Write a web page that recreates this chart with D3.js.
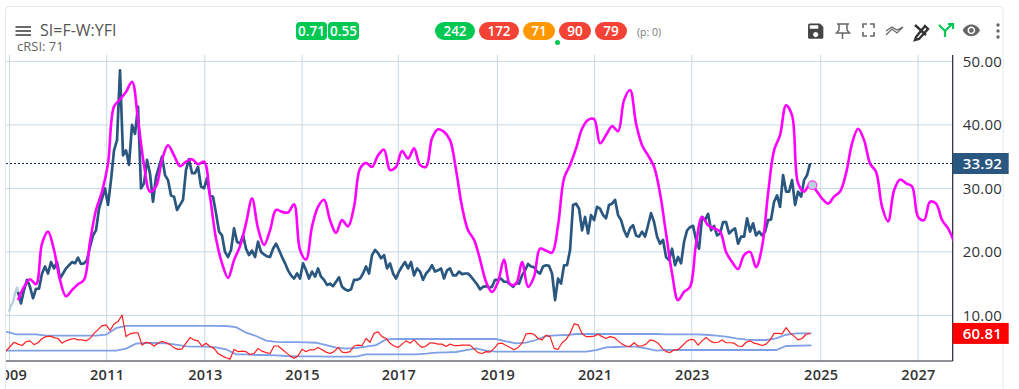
<!DOCTYPE html>
<html><head><meta charset="utf-8">
<script src="https://cdn.jsdelivr.net/npm/d3@7"></script>
<style>html,body{margin:0;padding:0;background:#fff;overflow:hidden}svg{display:block;font-family:"Open Sans",sans-serif}</style>
</head><body><div id="c"></div>
<script>
const tickYears=[2009,2011,2013,2015,2017,2019,2021,2023,2025,2027];
const tickWeeks=[0,104,209,313,416,522,626,730,868,972];
const priceTicks=[10,20,30,40,50];
const lastPrice=33.92, lastRsi=60.81;

const fadedWeeks=[-0.5,1.6,3.8,6,8.1,9.1];
const fadedPrice=[10.6,11.6,12.1,13.5,14.5,13.7];

const priceStartWeek=9.1, priceStep=3.21;
const price=[13.7,11.9,14.0,15.6,14.5,12.7,14.2,14.2,16.6,17.7,16.6,18.4,17.4,18.4,15.8,16.6,17.4,17.9,18.4,18.2,19.1,18.1,18.2,18.7,20.8,22.6,23.4,26.8,28.4,30.0,27.4,31.3,36.0,37.6,48.6,35.2,36.0,33.7,40.0,38.6,42.9,30.0,30.8,34.5,32.3,27.9,31.8,33.4,35.0,32.1,31.3,28.9,28.7,26.6,27.4,28.2,32.9,34.6,32.4,32.4,33.4,30.3,30.0,31.6,28.9,28.7,26.1,23.2,22.6,20.0,19.2,20.3,23.7,21.6,21.3,
22.6,20.5,19.5,20.2,19.2,21.6,20.0,19.6,19.3,19.2,20.5,21.3,20.3,19.2,18.2,17.1,16.3,15.8,16.6,15.8,18.2,17.1,15.8,16.9,16.1,17.4,16.1,15.6,14.8,15.0,14.6,15.3,16.0,14.5,14.1,13.9,14.1,15.6,15.6,15.8,16.6,17.7,16.6,19.5,20.3,19.8,19.0,19.5,17.4,18.2,16.6,15.8,16.9,17.7,18.4,17.4,18.4,16.3,17.4,16.9,15.6,16.6,17.1,17.9,16.9,17.1,17.4,15.8,17.1,17.4,16.3,16.3,16.9,16.5,16.6,16.6,16.1,15.5,14.9,14.1,
14.5,14.6,14.4,14.5,15.6,15.6,15.8,15.3,15.3,14.9,14.5,15.1,15.0,16.3,17.1,18.1,17.7,17.6,16.9,16.6,17.7,17.9,17.8,16.6,12.4,15.8,15.0,17.9,17.9,20.3,27.4,27.6,26.8,23.4,25.5,22.9,25.8,25.0,27.1,26.8,25.8,25.3,27.4,27.6,28.2,25.8,25.0,23.4,22.4,23.7,24.2,22.6,22.4,23.2,22.4,24.2,26.1,24.7,22.4,21.3,21.9,19.2,18.7,20.5,17.9,19.2,18.2,21.6,23.4,23.9,24.1,21.9,20.5,25.5,25.0,26.0,23.4,24.1,22.6,22.9,
24.7,24.7,22.9,23.4,23.7,21.3,22.4,22.4,25.3,23.2,24.5,22.6,23.2,22.6,23.2,25.0,25.1,27.9,28.9,27.1,32.1,29.5,29.5,31.3,27.4,29.5,28.7,31.3,32.1,33.92];

const cycleStartWeek=9.1, cycleStep=6.42;
const cycle=[12.4,14.5,15.7,14.9,21.3,23.2,20.3,15.6,13.0,14.0,14.9,15.6,21.6,26.6,29.5,33.9,42.9,44.0,45.2,46.8,40.8,33.7,29.5,30.3,34.5,36.8,35.2,33.5,34.2,34.6,33.8,34.2,28.7,22.1,18.2,15.9,18.7,20.9,
24.5,28.4,23.7,21.1,23.4,26.6,26.3,26.2,27.5,20.3,18.8,24.0,27.1,28.2,25.0,23.0,25.0,24.0,27.1,33.1,34.0,33.4,35.2,36.1,32.9,33.4,35.9,34.7,36.3,33.7,33.4,37.9,39.3,38.9,37.6,32.9,27.1,23.4,21.9,18.8,
15.3,13.7,15.3,18.8,14.9,15.0,18.4,14.5,16.1,20.5,20.2,19.9,24.2,31.6,33.7,36.3,39.4,40.8,40.9,37.1,38.4,39.8,39.0,43.9,45.5,40.2,36.8,35.2,33.4,29.2,22.9,16.6,12.4,13.7,14.5,21.3,25.5,24.2,23.7,23.2,
20.0,18.4,17.3,19.5,20.0,17.6,20.8,29.2,36.0,38.4,43.1,41.5,30.8,29.5,30.7,29.7,28.4,27.6,28.7,29.5,32.4,37.1,39.4,37.6,33.9,32.6,27.1,24.8,29.7,31.4,30.8,30.3,25.5,25.0,27.9,27.6,25.0,23.7,21.6];
const cycleMarkerWeek=859, cycleMarkerValue=30.5;

const rsiStartWeek=-3.7, rsiStep=4.28;
const rsi=[23,33,42,38,35,43,45,37,41,50,54,55,52,50,40,45,48,50,47,47,45,50,61,69,77,79,67,81,86,100,54,60,62,62,36,42,40,34,40,44,41,37,30,27,28,40,52,47,45,34,40,33,29,18,13,9,6,27,22,23,22,16,18,29,23,20,18,34,34,27,20,13,8,13,27,22,26,26,31,26,21,18,22,31,21,20,22,34,36,35,50,42,61,64,54,50,40,34,31,38,45,40,47,38,
31,34,41,40,38,38,33,38,35,35,36,36,36,28,20,18,22,21,29,39,40,35,31,26,31,40,60,61,59,50,47,57,54,29,27,41,48,61,81,79,60,54,54,55,59,54,50,54,52,45,38,34,33,41,34,34,38,47,45,40,29,22,20,26,26,34,43,48,47,36,45,52,45,41,42,47,41,41,40,34,33,42,45,40,38,35,38,47,61,61,60,73,62,55,47,50,59,60.81];

const bandStartWeek=-3.7, bandStep=10.7, bandEndWeek=858;
const bandUpper=[64.5,58.8,58.8,58.8,56,56,56,56,56,56,58,72,77,77,77,77,77,77,77,77,77,77,76.6,74,62.4,55.3,45.4,43,42.5,42.5,41.8,41,36,30.5,28.4,29.8,32.6,36,48.2,48.9,48.9,48.9,
48.9,48.9,48.9,48.9,48.9,48.9,48.9,48.9,44,39.7,41,46.8,55.3,56.7,57.4,59.6,59.6,59.6,59.6,59.6,59.6,59.6,59.6,59.6,58.8,58.8,58.8,58.8,58,56,53.9,50.3,47.5,46.8,46.8,50.3,58,61,61,61];
const bandLower=[24.1,24.1,24.1,24.1,24.1,24.1,24.1,24.1,24.1,24.1,24.1,24.1,28.4,39,40.4,40.4,39.7,36.9,33.3,32.6,32.6,31.2,27,16.3,16.3,14.9,14.9,14.2,12.8,12,12,12,11.3,11.3,11.3,11.3,16.3,16.3,16.3,16.3,16.3,16.3,
17.7,19.8,20.6,21.3,25.5,29,24.1,22,22,22,22,22,22,22,22,22,22,25.5,31.2,31.9,32.6,32.6,29,24.1,25.5,25.5,25.5,25.5,25.5,25.5,25.5,25.5,25.5,25.5,25.5,25.5,34,35.4];

const badgesA=[{t:"0.71",x0:296,x1:327,c:"#00c853"},{t:"0.55",x0:328,x1:359,c:"#00c853"}];
const badgesB=[{t:"242",x0:435,x1:475,c:"#00c853"},{t:"172",x0:479,x1:519,c:"#f44336"},{t:"71",x0:523,x1:555,c:"#ff9800"},{t:"90",x0:559,x1:591,c:"#f44336"},{t:"79",x0:595,x1:627,c:"#f44336"}];

const W=1019,H=389,L=6,R=952.7,T=55,B=361;
const x=d3.scaleLinear([0,730],[9.5,691.8]);
const y=d3.scaleLinear([10,50],[315.4,61.4]);
const yR=d3.scaleLinear([0,100],[362,315]);
const svg=d3.select("#c").append("svg").attr("width",W).attr("height",H);
const defs=svg.append("defs");
defs.append("clipPath").attr("id","plot").append("rect").attr("x",L).attr("y",T).attr("width",R-L).attr("height",B-T);
defs.append("clipPath").attr("id","xa").append("rect").attr("x",L).attr("y",B).attr("width",R-L+40).attr("height",H-B);

// card
svg.append("rect").attr("x",5.5).attr("y",6.5).attr("width",997.5).attr("height",H).attr("rx",4).attr("fill","#fff").attr("stroke","#e4e7ea");

// grid + axes
const gx=svg.append("g").attr("clip-path","url(#xa)").append("g").attr("transform",`translate(0,${B})`)
 .call(d3.axisBottom(x).tickValues(tickWeeks).tickFormat((d,i)=>tickYears[i]).tickSize(0).tickPadding(9));
gx.select(".domain").remove();
gx.selectAll("text").attr("fill","#333").attr("font-size",14.5).attr("font-weight",600).attr("font-family",'"Open Sans",sans-serif').attr("letter-spacing",.3);
svg.append("g").selectAll("line").data(tickWeeks).join("line").attr("x1",d=>x(d)).attr("x2",d=>x(d)).attr("y1",T).attr("y2",B).attr("stroke","#c8d7e6").attr("stroke-width",1);
svg.append("g").selectAll("line").data(priceTicks).join("line").attr("x1",L).attr("x2",R).attr("y1",d=>y(d)).attr("y2",d=>y(d)).attr("stroke","#c8d7e6").attr("stroke-width",1);

const gy=svg.append("g").attr("transform",`translate(${R},0)`)
 .call(d3.axisRight(y).tickValues(priceTicks).tickFormat(d3.format(".2f")).tickSize(0).tickPadding(10));
gy.select(".domain").remove();
gy.selectAll("text").attr("fill","#333").attr("font-size",15).attr("font-family",'"Open Sans",sans-serif').attr("letter-spacing",.2);

svg.append("line").attr("x1",L).attr("x2",R).attr("y1",y(lastPrice)).attr("y2",y(lastPrice)).attr("stroke","#1e3350").attr("stroke-width",1).attr("stroke-dasharray","2,2");
svg.append("line").attr("x1",L).attr("x2",R).attr("y1",B).attr("y2",B).attr("stroke","#20242e").attr("stroke-width",1.2);
svg.append("line").attr("x1",R).attr("x2",R).attr("y1",T).attr("y2",B).attr("stroke","#20242e").attr("stroke-width",1.2);

const plot=svg.append("g").attr("clip-path","url(#plot)");
const line=(xs,ys,curve)=>d3.line().x(i=>x(xs(i))).y(i=>ys(i)).curve(curve||d3.curveLinear);
const idx=a=>d3.range(a.length);

const bandX=(a,i)=>i===a.length-1?bandEndWeek:bandStartWeek+bandStep*i;
[bandUpper,bandLower].forEach(a=>{
 plot.append("path").attr("d",line(i=>bandX(a,i),i=>yR(a[i]))(idx(a))).attr("fill","none").attr("stroke","#7f9fe6").attr("stroke-width",1.8);
});
plot.append("path").attr("d",line(i=>rsiStartWeek+rsiStep*i,i=>yR(rsi[i]))(idx(rsi))).attr("fill","none").attr("stroke","#ff2020").attr("stroke-width",1.2).attr("stroke-linejoin","round");
plot.append("path").attr("d",line(i=>fadedWeeks[i],i=>y(fadedPrice[i]))(idx(fadedPrice))).attr("fill","none").attr("stroke","#b9cfe2").attr("stroke-width",2.4);
plot.append("path").attr("d",line(i=>priceStartWeek+priceStep*i,i=>y(price[i]))(idx(price))).attr("fill","none").attr("stroke","#2a5780").attr("stroke-width",2.7).attr("stroke-linejoin","round");
plot.append("path").attr("d",line(i=>cycleStartWeek+cycleStep*i,i=>y(cycle[i]),d3.curveCatmullRom.alpha(.5))(idx(cycle))).attr("fill","none").attr("stroke","#ff00ff").attr("stroke-width",2.6);
plot.append("circle").attr("cx",x(cycleMarkerWeek)).attr("cy",y(cycleMarkerValue)).attr("r",4.4).attr("fill","#bccfe2").attr("stroke","#ff40e0").attr("stroke-width",1.2);

// value tags
const tag=(v,fill,yc)=>{
 svg.append("rect").attr("x",R).attr("y",yc-10.5).attr("width",56).attr("height",21).attr("fill",fill);
 svg.append("text").attr("x",R+10).attr("y",yc+5.5).attr("fill","#fff").attr("font-size",15).attr("font-weight",600).attr("letter-spacing",.2).text(v.toFixed(2));
};
tag(lastPrice,"#2a5780",y(lastPrice));
tag(lastRsi,"#ff0000",yR(lastRsi));

// header
const hb=svg.append("g").attr("stroke","#444").attr("stroke-width",1.6);
[27,31,35].forEach(v=>hb.append("line").attr("x1",15.5).attr("x2",31).attr("y1",v).attr("y2",v));
svg.append("text").attr("x",40).attr("y",35.5).attr("font-size",16).attr("fill","#555").text("SI=F-W:YFI");
svg.append("text").attr("x",17).attr("y",51).attr("font-size",13).attr("fill","#666").text("cRSI: 71");

const badge=(b,r)=>{
 svg.append("rect").attr("x",b.x0).attr("y",22).attr("width",b.x1-b.x0).attr("height",18).attr("rx",r).attr("fill",b.c);
 svg.append("text").attr("x",(b.x0+b.x1)/2).attr("y",36).attr("text-anchor","middle").attr("fill","#fff").attr("font-size",13.5).attr("font-weight",600).text(b.t);
};
badgesA.forEach(b=>badge(b,4));
badgesB.forEach(b=>badge(b,9));
svg.append("circle").attr("cx",557.5).attr("cy",42.5).attr("r",2.5).attr("fill","#00c853");
svg.append("text").attr("x",637).attr("y",36).attr("font-size",10.5).attr("fill","#777").text("(p: 0)");

// toolbar icons
const icon=(d,tx,ty,s,fill)=>svg.append("path").attr("d",d).attr("transform",`translate(${tx},${ty}) scale(${s})`).attr("fill",fill);
icon("M17 3H5c-1.11 0-2 .9-2 2v14c0 1.1.89 2 2 2h14c1.1 0 2-.9 2-2V7l-4-4zm-5 16c-1.66 0-3-1.34-3-3s1.34-3 3-3 3 1.34 3 3-1.34 3-3 3zm3-10H5V5h10v4z",805.5,21,.85,"#444");
icon("M12 4.5C7 4.5 2.73 7.61 1 12c1.73 4.39 6 7.5 11 7.5s9.27-3.11 11-7.5c-1.73-4.39-6-7.5-11-7.5zM12 17c-2.76 0-5-2.24-5-5s2.24-5 5-5 5 2.24 5 5-2.24 5-5 5zm0-8c-1.66 0-3 1.34-3 3s1.34 3 3 3 3-1.34 3-3-1.34-3-3-3z",962,21,.78,"#666");
const st=(d,c,w)=>svg.append("path").attr("d",d).attr("fill","none").attr("stroke",c).attr("stroke-width",w);
st("M837 24h12M839 24v6l-2.5 3h13l-2.5-3v-6M842.5 33v6","#666",1.5);
st("M863 28v-4h4M870 24h4v4M874 32v4h-4M867 36h-4v-4","#666",1.6);
st("M886 35l6-6 5 4 6-6M886 31l6-4 5 3 6-3","#666",1.2);
st("M915 25l11 10M916 37l9-11 3 3-9 10-4 1z","#333",2.4);
st("M939 25l6 6 7-7M945 31v6M948 24h5v5","#00c853",2.2);
[25,31,37].forEach(v=>svg.append("circle").attr("cx",998).attr("cy",v).attr("r",1.7).attr("fill","#666"));
</script></body></html>
